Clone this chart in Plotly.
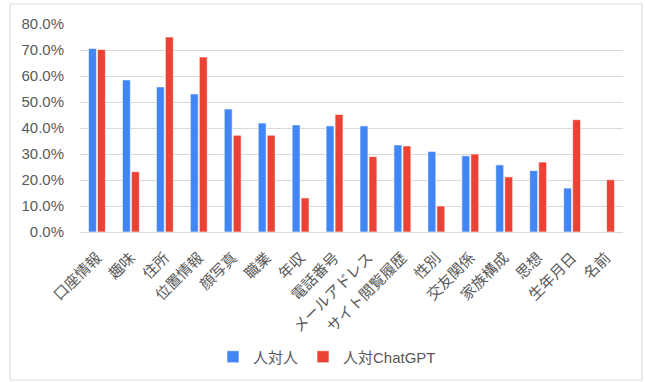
import plotly.graph_objects as go

categories = ["口座情報", "趣味", "住所", "位置情報", "顔写真", "職業", "年収", "電話番号",
              "メールアドレス", "サイト閲覧履歴", "性別", "交友関係", "家族構成", "思想", "生年月日", "名前"]
human_to_human = [0.706, 0.585, 0.558, 0.531, 0.473, 0.419, 0.412, 0.408,
                  0.408, 0.335, 0.310, 0.293, 0.258, 0.236, 0.169, 0.0]
human_to_chatgpt = [0.702, 0.232, 0.750, 0.673, 0.372, 0.372, 0.131, 0.452,
                    0.290, 0.331, 0.100, 0.300, 0.212, 0.269, 0.432, 0.201]
y_ticks = [0, 0.1, 0.2, 0.3, 0.4, 0.5, 0.6, 0.7, 0.8]

W, H = 645, 382
L, R, T, B = 80, 22, 24, 150
pw, ph = W - L - R, H - T - B

FONT = "Liberation Sans, Noto Sans CJK JP, Arial, sans-serif"
TEXT = "#595959"

fig = go.Figure()
fig.add_trace(go.Bar(name="人対人", x=categories, y=human_to_human,
                     marker=dict(color="#4285F4", line=dict(color="#ffffff", width=0.6))))
fig.add_trace(go.Bar(name="人対ChatGPT", x=categories, y=human_to_chatgpt,
                     marker=dict(color="#EA4335", line=dict(color="#ffffff", width=0.6))))

# outer chart frame
fig.add_shape(type="rect", xref="paper", yref="paper",
              x0=(10 - L) / pw, x1=(642 - L) / pw,
              y0=(H - B - 380) / ph, y1=(H - B - 4) / ph,
              line=dict(color="#d9d9d9", width=1), layer="below")

fig.update_layout(
    width=W, height=H,
    margin=dict(l=L, r=R, t=T, b=B, autoexpand=False),
    paper_bgcolor="white", plot_bgcolor="white",
    barmode="group", bargap=0.47, bargroupgap=0.12,
    font=dict(family=FONT, size=15, color=TEXT),
    showlegend=True,
    legend=dict(orientation="h", x=(327 - L) / pw, xanchor="center",
                y=(232 - 357) / ph, yanchor="middle",
                font=dict(size=15, color=TEXT), itemwidth=30, traceorder="normal"),
)
fig.update_xaxes(tickangle=-45, showgrid=False, showline=False,
                 ticks="outside", ticklen=10, tickcolor="rgba(0,0,0,0)",
                 tickfont=dict(size=15, color=TEXT, family="Noto Sans CJK JP, sans-serif"),
                 automargin=False)
fig.update_yaxes(range=[0, 0.8], tickvals=y_ticks, tickformat=".1%",
                 showgrid=True, gridcolor="#d9d9d9", gridwidth=1,
                 zeroline=True, zerolinecolor="#d9d9d9", zerolinewidth=1,
                 ticks="outside", ticklen=12, tickcolor="rgba(0,0,0,0)",
                 tickfont=dict(size=15, color=TEXT), automargin=False)

fig.write_html("out.html")
